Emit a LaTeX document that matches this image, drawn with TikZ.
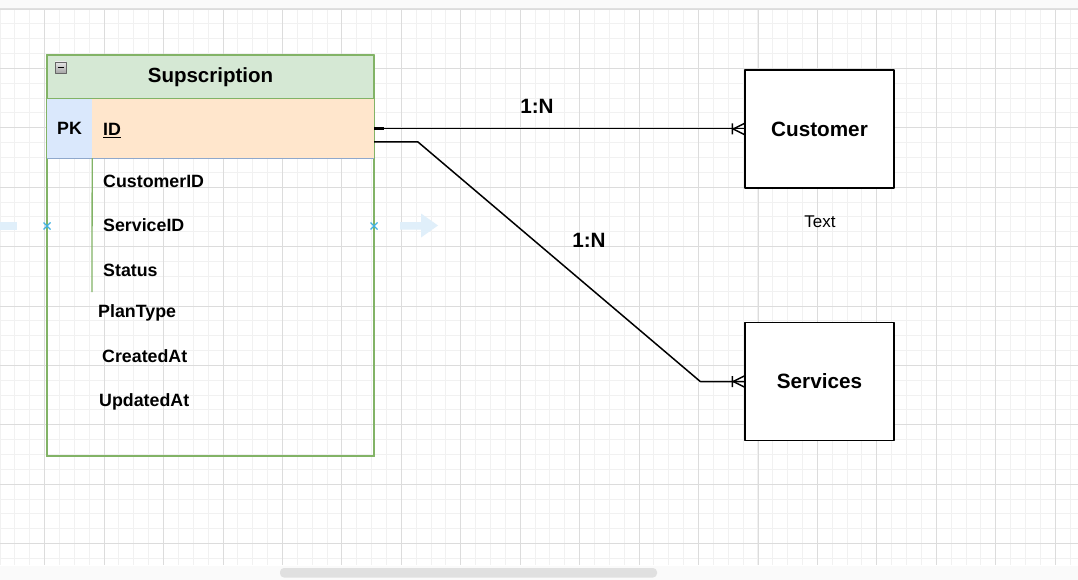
\documentclass[tikz,border=0pt]{standalone}
\usepackage{fontspec}
\setmainfont{Liberation Sans}
\usetikzlibrary{positioning}

\definecolor{hdrgreen}{HTML}{D5E8D4}
\definecolor{edgegreen}{HTML}{82B366}
\definecolor{pkblue}{HTML}{DAE8FC}
\definecolor{rowline}{HTML}{8FA8CC}
\definecolor{idorange}{HTML}{FFE6CC}
\definecolor{gridminor}{HTML}{F1F1F1}
\definecolor{gridmajor}{HTML}{DCDCDC}
\definecolor{hintblue}{HTML}{E0EFFA}
\definecolor{markblue}{HTML}{3FB2E3}

% crow's foot (one or many) at the west side of a node
\newcommand{\manyend}[1]{%
  \draw[rel] ([xshift=-11pt]#1.west) -- ([yshift=5.5pt]#1.west)
             ([xshift=-11pt]#1.west) -- ([yshift=-5.5pt]#1.west)
             ([xshift=-12pt,yshift=5.5pt]#1.west) -- ([xshift=-12pt,yshift=-5.5pt]#1.west);}

\begin{document}
\begin{tikzpicture}[x=1pt, y=-1pt, line join=round,
    fld/.style={anchor=west, inner sep=0pt, font=\bfseries\fontsize{17.8}{20}\selectfont,
      text height=12.7pt, text depth=0pt},
    ent/.style={draw, line width=1.5pt, fill=white, minimum width=149pt, minimum height=118pt,
      inner sep=0pt, font=\bfseries\fontsize{20.7}{24}\selectfont},
    card/.style={inner sep=0pt, font=\bfseries\fontsize{20.7}{24}\selectfont},
    rel/.style={line width=1.5pt},
    xmark/.style={markblue, line width=1.2pt}]
    \useasboundingbox (0,0) rectangle (1078,580);

    % grid
    \fill[white] (0,0) rectangle (1078,580);
    \foreach \i in {0,...,72}
        \draw[gridminor, line width=0.8pt] ({\i*14.86},9) -- ({\i*14.86},565);
    \foreach \j in {0,...,37}
        \draw[gridminor, line width=0.8pt] (0,{8.9+\j*14.85}) -- (1078,{8.9+\j*14.85});
    \foreach \i in {0,...,17}
        \draw[gridmajor, line width=0.8pt] ({44.58+\i*59.45},9) -- ({44.58+\i*59.45},565);
    \foreach \j in {0,...,9}
        \draw[gridmajor, line width=0.8pt] (0,{9+\j*59.4}) -- (1078,{9+\j*59.4});

    % window bands and scrollbar
    \fill[black!2] (0,0) rectangle (1078,8);
    \draw[black!12] (0,8.5) -- (1078,8.5);
    \fill[black!2] (0,565.5) rectangle (1078,580);
    \fill[black!12, rounded corners=4pt] (280,568) rectangle (657,577.5);

    % hover hints
    \fill[hintblue] (0,222) rectangle (17,229.5);
    \fill[hintblue] (400,222) -- (421,222) -- (421,213.5) -- (438,225.5) -- (421,237.5)
        -- (421,229.5) -- (400,229.5) -- cycle;

    % table
    \node[draw=edgegreen, line width=1.3pt, minimum width=327pt, minimum height=401pt,
        inner sep=0pt] (tbl) at (210.5,255.5) {};
    \node[fill=hdrgreen, draw=edgegreen, line width=1.3pt, minimum width=327pt, minimum height=44pt,
        inner sep=0pt, font=\bfseries\fontsize{20.5}{24}\selectfont] (head) at (210.5,77) {Supscription};
    \node[fill=pkblue, minimum width=45pt, minimum height=59pt, inner sep=0pt,
        font=\bfseries\fontsize{17.8}{20}\selectfont] (pk) at (69.5,128.5) {PK};
    \node[fill=idorange, minimum width=282pt, minimum height=59pt, inner sep=0pt] (idrow) at (233,128.5) {};
    \node[fld] (idtxt) at (103,129) {\underline{ID}};
    \draw[rowline, line width=1.3pt] (pk.south west) -- (idrow.south east);
    \draw[edgegreen, line width=1.3pt] (pk.south east) -- (92,292);
    \draw[edgegreen, line width=1.3pt] (head.south west) -- (tbl.south west) -- (tbl.south east) -- (head.south east);

    % collapse icon
    \shade[top color=black!10, bottom color=black!35, draw=black!60, line width=0.8pt]
        (55,62) rectangle (66,73);
    \draw[black, line width=1.2pt] (57.5,67.5) -- (63.5,67.5);

    % fields
    \node[fld] (f1) at (103,181) {CustomerID};
    \node[fld] (f2) at (103,225) {ServiceID};
    \node[fld] (f3) at (103,270) {Status};
    \node[fld] (f4) at (98,311) {PlanType};
    \node[fld] (f5) at (102,356) {CreatedAt};
    \node[fld] (f6) at (99,400) {UpdatedAt};

    % connection markers
    \draw[xmark] (47,226) +(-3.5,-3.5) -- +(3.5,3.5) +(-3.5,3.5) -- +(3.5,-3.5);
    \draw[xmark] (374,226) +(-3.5,-3.5) -- +(3.5,3.5) +(-3.5,3.5) -- +(3.5,-3.5);

    % entities
    \node[ent] (customer) at (819.5,129) {Customer};
    \node[ent] (services) at (819.5,381.5) {Services};
    \node[inner sep=0pt, font=\fontsize{17}{20}\selectfont] (note) at (820,222) {Text};

    % relations
    \draw[rel] (idrow.east) -- (idrow.east -| customer.west);
    \draw[line width=2.4pt] (idrow.east) -- ++(10,0);
    \manyend{customer}
    \coordinate (s2) at (374,142);
    \draw[rel] (s2) -- ++(44,0) -- ([xshift=-44pt]services.west) -- (services.west);
    \manyend{services}
    \node[card] (c1) at (537,106) {1:N};
    \node[card] (c2) at (589,240) {1:N};
\end{tikzpicture}
\end{document}
